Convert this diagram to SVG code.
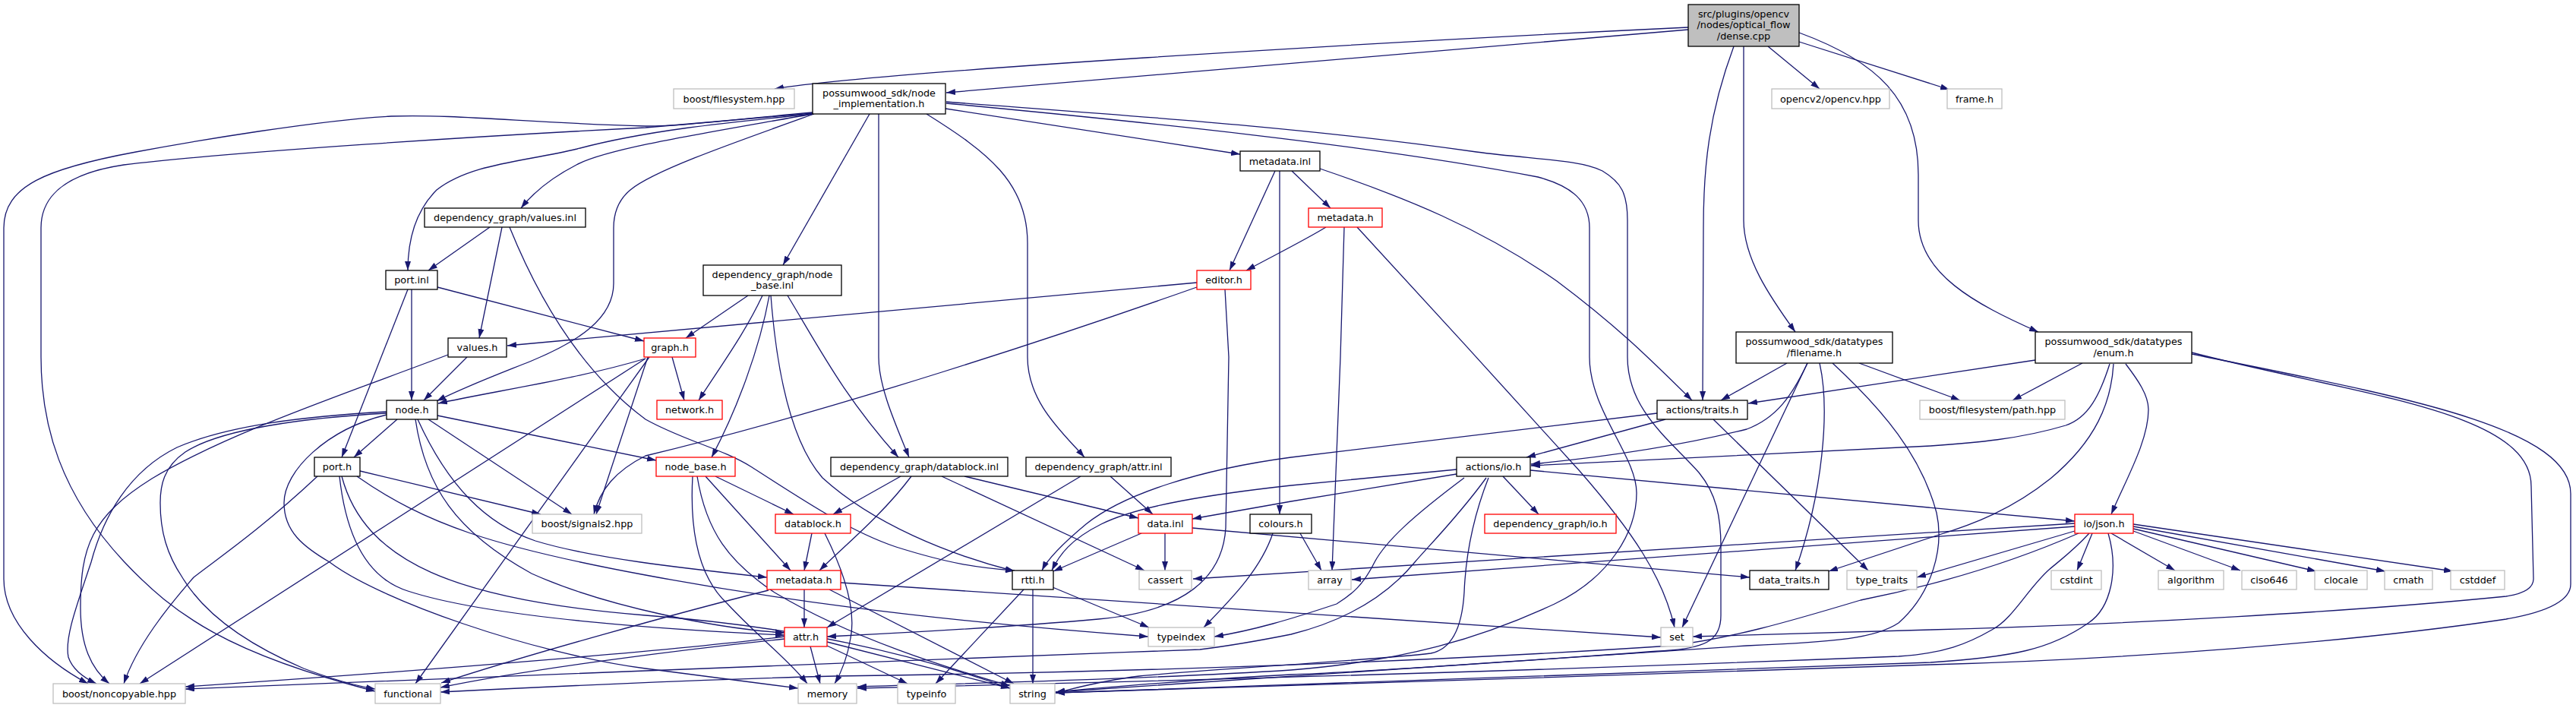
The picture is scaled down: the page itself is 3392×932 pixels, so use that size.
<svg xmlns="http://www.w3.org/2000/svg" width="3392" height="932" viewBox="0 0 3392 932">
<defs>
<marker id="a" markerUnits="userSpaceOnUse" viewBox="0 0 12 8" refX="12" refY="4" markerWidth="12" markerHeight="8" orient="auto"><path d="M0,0 L12,4 L0,8 z" fill="#191970"/></marker>
<style>
.e{fill:none;stroke:#191970;stroke-width:1.3;marker-end:url(#a)}
.d{fill:#fff;stroke:#000;stroke-width:1.3}
.r{fill:#fff;stroke:#ff0000;stroke-width:1.3}
.x{fill:#fff;stroke:#bfbfbf;stroke-width:1.3}
.root{fill:#bfbfbf;stroke:#000;stroke-width:1.3}
text{font-family:"DejaVu Sans","Liberation Sans",sans-serif;font-size:12.8px;fill:#000;text-anchor:middle}
</style>
</defs>
<rect width="3392" height="932" fill="#fff"/>
<g id="connectors">
<path class="e" d="M2223,36 C1800,56 1150,95 1020,117"/>
<path class="e" d="M2223,39 L1246,122"/>
<path class="e" d="M2328,61 L2396,117"/>
<path class="e" d="M2369,55 L2567,118"/>
<path class="e" d="M2369,43 C2470,80 2526,130 2526,230 L2526,290 C2526,360 2600,400 2684,437"/>
<path class="e" d="M2296,61 L2296,290 C2296,340 2330,390 2364,437"/>
<path class="e" d="M2283,61 C2250,150 2243,220 2243,300 L2242,527"/>
<path class="e" d="M1070,148 C960,158 900,166 850,166 C700,162 600,150 515,153 C420,158 260,185 179,200 C60,222 5,245 5,300 L5,762 C5,820 60,870 116,900"/>
<path class="e" d="M1070,149 L850,168 C650,178 300,200 163,217 C90,228 54,255 54,300 L54,470 C54,560 80,650 163,739 C230,810 300,860 494,910"/>
<path class="e" d="M1070,150 C950,162 850,172 760,196 C690,213 620,215 575,250 C545,280 537,320 537,356"/>
<path class="e" d="M1070,150 C930,175 800,195 759,217 C730,232 705,250 686,274"/>
<path class="e" d="M1072,150 C960,190 860,225 830,250 C812,265 808,283 808,300 L808,373 C808,420 760,450 700,475 C650,495 610,510 575,528"/>
<path class="e" d="M1145,150 L1031,349"/>
<path class="e" d="M1157,150 L1157,470 C1157,510 1180,560 1197,602"/>
<path class="e" d="M1220,150 C1300,200 1353,240 1353,320 L1353,470 C1353,530 1400,570 1428,602"/>
<path class="e" d="M1245,143 L1633,203"/>
<path class="e" d="M1246,136 C1500,160 1800,190 2025,233 C2070,245 2093,265 2093,300 L2093,470 C2093,540 2155,600 2155,649 C2155,700 2120,760 2047,795 C1950,840 1850,870 1700,882 C1500,895 1250,900 1129,904"/>
<path class="e" d="M1246,134 C1450,150 1700,165 1944,200 C2020,210 2080,210 2110,225 C2135,240 2143,255 2143,290 L2143,470 C2143,540 2200,580 2237,622 C2260,650 2266,680 2266,720 L2266,810 C2266,840 2250,852 2200,856 C2000,870 1800,885 1700,888 C1600,893 1450,905 1390,911"/>
<path class="e" d="M1679,225 L1619,356"/>
<path class="e" d="M1701,225 L1752,274"/>
<path class="e" d="M1685,225 L1685,677"/>
<path class="e" d="M1738,222 C1850,260 1950,300 2050,370 C2130,430 2170,470 2228,527"/>
<path class="e" d="M1746,299 C1720,315 1680,335 1641,356"/>
<path class="e" d="M1770,299 L1765,470 L1754,751"/>
<path class="e" d="M1787,299 C1880,400 1990,520 2080,620 C2150,700 2190,760 2205,826"/>
<path class="e" d="M645,299 L564,356"/>
<path class="e" d="M661,299 L631,445"/>
<path class="e" d="M671,299 C720,420 780,500 850,552 C900,580 950,590 990,615 C1060,660 1120,700 1180,720 C1250,742 1290,748 1336,751"/>
<path class="e" d="M576,378 L848,449"/>
<path class="e" d="M537,381 L450,602"/>
<path class="e" d="M542,381 L542,527"/>
<path class="e" d="M615,470 L558,527"/>
<path class="e" d="M590,467 C450,520 300,570 200,630 C120,680 106,720 106,800 C106,850 120,880 144,900"/>
<path class="e" d="M1576,372 L668,455"/>
<path class="e" d="M1576,378 C1400,440 1100,540 850,600 C810,620 790,645 782,677"/>
<path class="e" d="M1613,381 L1618,470 L1614,695 C1610,760 1560,805 1446,815 C1300,828 1150,835 1089,838"/>
<path class="e" d="M985,389 L903,445"/>
<path class="e" d="M1004,389 C980,440 950,480 920,527"/>
<path class="e" d="M1013,389 C1000,460 970,540 937,602"/>
<path class="e" d="M1015,389 C1022,480 1040,580 1083,629 C1150,690 1250,730 1336,752"/>
<path class="e" d="M1037,389 C1080,460 1110,520 1183,602"/>
<path class="e" d="M850,472 C760,499 650,515 577,531"/>
<path class="e" d="M885,470 L901,527"/>
<path class="e" d="M853,470 L785,677"/>
<path class="e" d="M850,472 L184,900"/>
<path class="e" d="M855,470 L547,900"/>
<path class="e" d="M523,552 L466,602"/>
<path class="e" d="M564,552 L753,677"/>
<path class="e" d="M576,547 L864,606"/>
<path class="e" d="M550,552 C590,640 640,690 705,712 C780,735 900,748 1010,760"/>
<path class="e" d="M547,552 C560,640 600,700 700,755 C800,800 950,828 1033,833"/>
<path class="e" d="M509,546 C430,565 374,620 374,662 C374,700 400,720 434,740 C500,790 700,860 850,880 C950,893 1000,900 1051,906"/>
<path class="e" d="M509,542 C400,548 300,560 233,589 C170,620 136,680 120,740 C100,800 85,840 90,865 C95,880 110,892 127,900"/>
<path class="e" d="M509,544 C400,550 290,565 244,595 C215,615 211,640 211,662 C211,700 220,730 240,760 C270,810 330,850 400,880 C440,895 470,903 494,907"/>
<path class="e" d="M474,620 L712,677"/>
<path class="e" d="M418,627 C340,700 280,740 255,760 C220,800 180,850 163,900"/>
<path class="e" d="M470,627 C560,690 650,720 850,757 C1000,785 1200,815 1512,838"/>
<path class="e" d="M447,627 C455,700 480,760 537,778 C650,815 900,830 1033,836"/>
<path class="e" d="M450,627 C480,740 600,790 850,810 C1050,825 1200,860 1330,906"/>
<path class="e" d="M942,627 L1045,677"/>
<path class="e" d="M929,627 L1041,751"/>
<path class="e" d="M912,627 C908,700 920,760 958,795 C1000,840 1040,870 1063,900"/>
<path class="e" d="M918,627 C930,700 960,740 1020,780 C1120,840 1250,880 1330,903"/>
<path class="e" d="M1186,627 L1097,677"/>
<path class="e" d="M1200,627 C1160,680 1110,720 1079,751"/>
<path class="e" d="M1240,627 L1507,751"/>
<path class="e" d="M1270,627 L1499,682"/>
<path class="e" d="M1423,627 L1089,826"/>
<path class="e" d="M1462,627 L1518,677"/>
<path class="e" d="M1069,702 L1059,751"/>
<path class="e" d="M1086,702 C1110,750 1128,800 1120,840 C1115,870 1105,890 1099,900"/>
<path class="e" d="M1503,702 L1387,752"/>
<path class="e" d="M1534,702 L1534,751"/>
<path class="e" d="M1570,695 L2304,760"/>
<path class="e" d="M1712,702 L1740,751"/>
<path class="e" d="M1676,702 C1660,750 1620,790 1585,826"/>
<path class="e" d="M1059,776 L1059,826"/>
<path class="e" d="M1092,776 L1335,900"/>
<path class="e" d="M1107,767 L2187,839"/>
<path class="e" d="M1012,777 C900,805 700,860 581,899"/>
<path class="e" d="M1067,851 L1080,900"/>
<path class="e" d="M1089,850 L1195,900"/>
<path class="e" d="M1089,845 L1330,906"/>
<path class="e" d="M1033,838 C900,855 600,880 244,904"/>
<path class="e" d="M1033,841 C900,855 700,880 580,905"/>
<path class="e" d="M1348,776 L1232,900"/>
<path class="e" d="M1386,773 L1513,826"/>
<path class="e" d="M1360,776 L1360,900"/>
<path class="e" d="M2182,544 L1700,602 C1580,618 1480,650 1430,690 C1400,715 1380,735 1372,751"/>
<path class="e" d="M2193,552 L2010,602"/>
<path class="e" d="M2256,552 L2460,751"/>
<path class="e" d="M1979,627 L2026,677"/>
<path class="e" d="M2015,619 L2732,686"/>
<path class="e" d="M1918,618 L1700,639 C1600,650 1500,665 1450,690 C1410,710 1395,730 1385,751"/>
<path class="e" d="M1918,624 L1700,660 L1570,683"/>
<path class="e" d="M1928,629 C1860,680 1825,712 1810,740 C1795,770 1781,782 1760,795 C1700,815 1650,830 1599,838"/>
<path class="e" d="M1957,629 C1920,680 1880,720 1863,740 C1830,780 1780,815 1700,835 C1650,845 1620,850 1580,855 C1300,865 1000,878 850,883 C600,893 400,900 244,907"/>
<path class="e" d="M1960,629 C1940,680 1930,730 1928,780 C1925,830 1910,855 1884,860 C1800,870 1600,880 1500,890 C1450,896 1420,905 1390,912"/>
<path class="e" d="M2755,702 L2735,751"/>
<path class="e" d="M2780,702 L2864,751"/>
<path class="e" d="M2809,699 L2950,751"/>
<path class="e" d="M2809,696 L3050,752"/>
<path class="e" d="M2809,693 L3141,752"/>
<path class="e" d="M2809,690 L3230,752"/>
<path class="e" d="M2732,693 L1780,763"/>
<path class="e" d="M2732,689 L1571,762"/>
<path class="e" d="M2732,699 L2524,760"/>
<path class="e" d="M2737,702 C2650,740 2550,770 2450,790 C2350,820 2280,840 2200,850 C1900,870 1500,885 1100,890 C900,895 700,905 580,911"/>
<path class="e" d="M2751,702 C2730,725 2712,738 2698,750 C2670,775 2650,815 2623,829 C2590,848 2560,860 2500,864 C2200,876 1700,893 1129,906"/>
<path class="e" d="M2776,702 C2790,750 2780,800 2750,820 C2700,855 2650,865 2542,872 C2200,885 1700,900 1390,912"/>
<path class="e" d="M2680,474 L2302,531"/>
<path class="e" d="M2742,478 L2650,527"/>
<path class="e" d="M2778,479 C2765,520 2750,550 2720,560 C2660,578 2600,583 2542,587 L2016,613"/>
<path class="e" d="M2799,479 C2815,500 2829,520 2829,539 C2829,580 2800,630 2780,677"/>
<path class="e" d="M2783,479 C2780,530 2760,580 2700,630 C2650,670 2600,690 2550,705 L2408,752"/>
<path class="e" d="M2886,464 C3100,520 3333,540 3333,640 L3336,762 C3336,775 3320,782 3300,785 C3100,805 2800,822 2542,829 C2400,833 2300,835 2229,838"/>
<path class="e" d="M2886,466 C3150,520 3385,560 3385,650 L3385,769 C3385,795 3340,808 3300,815 C3100,845 2800,868 2542,875 C2200,885 1700,905 1390,912"/>
<path class="e" d="M2353,478 L2266,527"/>
<path class="e" d="M2380,478 C2360,520 2340,550 2300,565 C2200,590 2100,603 2016,611"/>
<path class="e" d="M2380,478 L2215,826"/>
<path class="e" d="M2396,478 C2410,540 2400,650 2364,751"/>
<path class="e" d="M2413,478 C2480,540 2530,600 2550,675 C2560,720 2545,780 2500,820 C2470,840 2420,845 2300,850 C2000,870 1700,893 1390,911"/>
<path class="e" d="M2448,478 L2581,527"/>
</g>
<g id="node-dense"><rect class="root" x="2223" y="6" width="146" height="55"/><text x="2296" y="22.8">src/plugins/opencv</text><text x="2296" y="37.3">/nodes/optical_flow</text><text x="2296" y="51.8">/dense.cpp</text></g>
<g id="node-boost-filesystem"><rect class="x" x="887" y="117" width="159" height="26"/><text x="966.5" y="134.5">boost/filesystem.hpp</text></g>
<g id="node-node-implementation"><rect class="d" x="1070" y="110" width="175" height="40"/><text x="1157.5" y="126.5">possumwood_sdk/node</text><text x="1157.5" y="141">_implementation.h</text></g>
<g id="node-opencv"><rect class="x" x="2333" y="117" width="155" height="26"/><text x="2410.5" y="134.5">opencv2/opencv.hpp</text></g>
<g id="node-frame"><rect class="x" x="2564" y="117" width="72" height="26"/><text x="2600" y="134.5">frame.h</text></g>
<g id="node-metadata-inl"><rect class="d" x="1633" y="199" width="105" height="26"/><text x="1685.5" y="216.5">metadata.inl</text></g>
<g id="node-values-inl"><rect class="d" x="559" y="274" width="212" height="25"/><text x="665" y="291">dependency_graph/values.inl</text></g>
<g id="node-metadata-h-top"><rect class="r" x="1723" y="274" width="97" height="25"/><text x="1771.5" y="291">metadata.h</text></g>
<g id="node-port-inl"><rect class="d" x="508" y="356" width="68" height="25"/><text x="542" y="373">port.inl</text></g>
<g id="node-node-base-inl"><rect class="d" x="926" y="349" width="182" height="40"/><text x="1017" y="365.5">dependency_graph/node</text><text x="1017" y="380">_base.inl</text></g>
<g id="node-editor"><rect class="r" x="1576" y="356" width="71" height="25"/><text x="1611.5" y="373">editor.h</text></g>
<g id="node-values-h"><rect class="d" x="590" y="445" width="77" height="25"/><text x="628.5" y="462">values.h</text></g>
<g id="node-graph"><rect class="r" x="848" y="445" width="68" height="25"/><text x="882" y="462">graph.h</text></g>
<g id="node-filename"><rect class="d" x="2286" y="437" width="206" height="41"/><text x="2389" y="454">possumwood_sdk/datatypes</text><text x="2389" y="468.5">/filename.h</text></g>
<g id="node-enum"><rect class="d" x="2680" y="437" width="206" height="41"/><text x="2783" y="454">possumwood_sdk/datatypes</text><text x="2783" y="468.5">/enum.h</text></g>
<g id="node-node-h"><rect class="d" x="509" y="527" width="67" height="25"/><text x="542.5" y="544">node.h</text></g>
<g id="node-network"><rect class="r" x="865" y="527" width="86" height="25"/><text x="908" y="544">network.h</text></g>
<g id="node-traits"><rect class="d" x="2182" y="527" width="119" height="25"/><text x="2241.5" y="544">actions/traits.h</text></g>
<g id="node-path"><rect class="x" x="2528" y="527" width="191" height="25"/><text x="2623.5" y="544">boost/filesystem/path.hpp</text></g>
<g id="node-port-h"><rect class="d" x="414" y="602" width="60" height="25"/><text x="444" y="619">port.h</text></g>
<g id="node-node-base-h"><rect class="r" x="864" y="602" width="104" height="25"/><text x="916" y="619">node_base.h</text></g>
<g id="node-datablock-inl"><rect class="d" x="1094" y="602" width="233" height="25"/><text x="1210.5" y="619">dependency_graph/datablock.inl</text></g>
<g id="node-attr-inl"><rect class="d" x="1351" y="602" width="191" height="25"/><text x="1446.5" y="619">dependency_graph/attr.inl</text></g>
<g id="node-actions-io"><rect class="d" x="1918" y="602" width="97" height="25"/><text x="1966.5" y="619">actions/io.h</text></g>
<g id="node-signals2"><rect class="x" x="701" y="677" width="144" height="25"/><text x="773" y="694">boost/signals2.hpp</text></g>
<g id="node-datablock-h"><rect class="r" x="1021" y="677" width="99" height="25"/><text x="1070.5" y="694">datablock.h</text></g>
<g id="node-data-inl"><rect class="r" x="1499" y="677" width="71" height="25"/><text x="1534.5" y="694">data.inl</text></g>
<g id="node-colours"><rect class="d" x="1646" y="677" width="81" height="25"/><text x="1686.5" y="694">colours.h</text></g>
<g id="node-dg-io"><rect class="r" x="1955" y="677" width="173" height="25"/><text x="2041.5" y="694">dependency_graph/io.h</text></g>
<g id="node-json"><rect class="r" x="2732" y="677" width="77" height="25"/><text x="2770.5" y="694">io/json.h</text></g>
<g id="node-metadata-h-low"><rect class="r" x="1010" y="751" width="97" height="25"/><text x="1058.5" y="768">metadata.h</text></g>
<g id="node-rtti"><rect class="d" x="1333" y="751" width="54" height="25"/><text x="1360" y="768">rtti.h</text></g>
<g id="node-cassert"><rect class="x" x="1500" y="751" width="69" height="25"/><text x="1534.5" y="768">cassert</text></g>
<g id="node-array"><rect class="x" x="1723" y="751" width="56" height="25"/><text x="1751" y="768">array</text></g>
<g id="node-data-traits"><rect class="d" x="2304" y="751" width="104" height="25"/><text x="2356" y="768">data_traits.h</text></g>
<g id="node-type-traits"><rect class="x" x="2432" y="751" width="92" height="25"/><text x="2478" y="768">type_traits</text></g>
<g id="node-cstdint"><rect class="x" x="2701" y="751" width="66" height="25"/><text x="2734" y="768">cstdint</text></g>
<g id="node-algorithm"><rect class="x" x="2842" y="751" width="86" height="25"/><text x="2885" y="768">algorithm</text></g>
<g id="node-ciso646"><rect class="x" x="2952" y="751" width="72" height="25"/><text x="2988" y="768">ciso646</text></g>
<g id="node-clocale"><rect class="x" x="3048" y="751" width="69" height="25"/><text x="3082.5" y="768">clocale</text></g>
<g id="node-cmath"><rect class="x" x="3140" y="751" width="63" height="25"/><text x="3171.5" y="768">cmath</text></g>
<g id="node-cstddef"><rect class="x" x="3227" y="751" width="71" height="25"/><text x="3262.5" y="768">cstddef</text></g>
<g id="node-attr-h"><rect class="r" x="1033" y="826" width="56" height="25"/><text x="1061" y="843">attr.h</text></g>
<g id="node-typeindex"><rect class="x" x="1512" y="826" width="87" height="25"/><text x="1555.5" y="843">typeindex</text></g>
<g id="node-set"><rect class="x" x="2187" y="826" width="42" height="25"/><text x="2208" y="843">set</text></g>
<g id="node-noncopyable"><rect class="x" x="70" y="900" width="174" height="26"/><text x="157" y="917.5">boost/noncopyable.hpp</text></g>
<g id="node-functional"><rect class="x" x="494" y="900" width="86" height="26"/><text x="537" y="917.5">functional</text></g>
<g id="node-memory"><rect class="x" x="1051" y="900" width="77" height="26"/><text x="1089.5" y="917.5">memory</text></g>
<g id="node-typeinfo"><rect class="x" x="1182" y="900" width="76" height="26"/><text x="1220" y="917.5">typeinfo</text></g>
<g id="node-string"><rect class="x" x="1330" y="900" width="59" height="26"/><text x="1359.5" y="917.5">string</text></g>
</svg>
